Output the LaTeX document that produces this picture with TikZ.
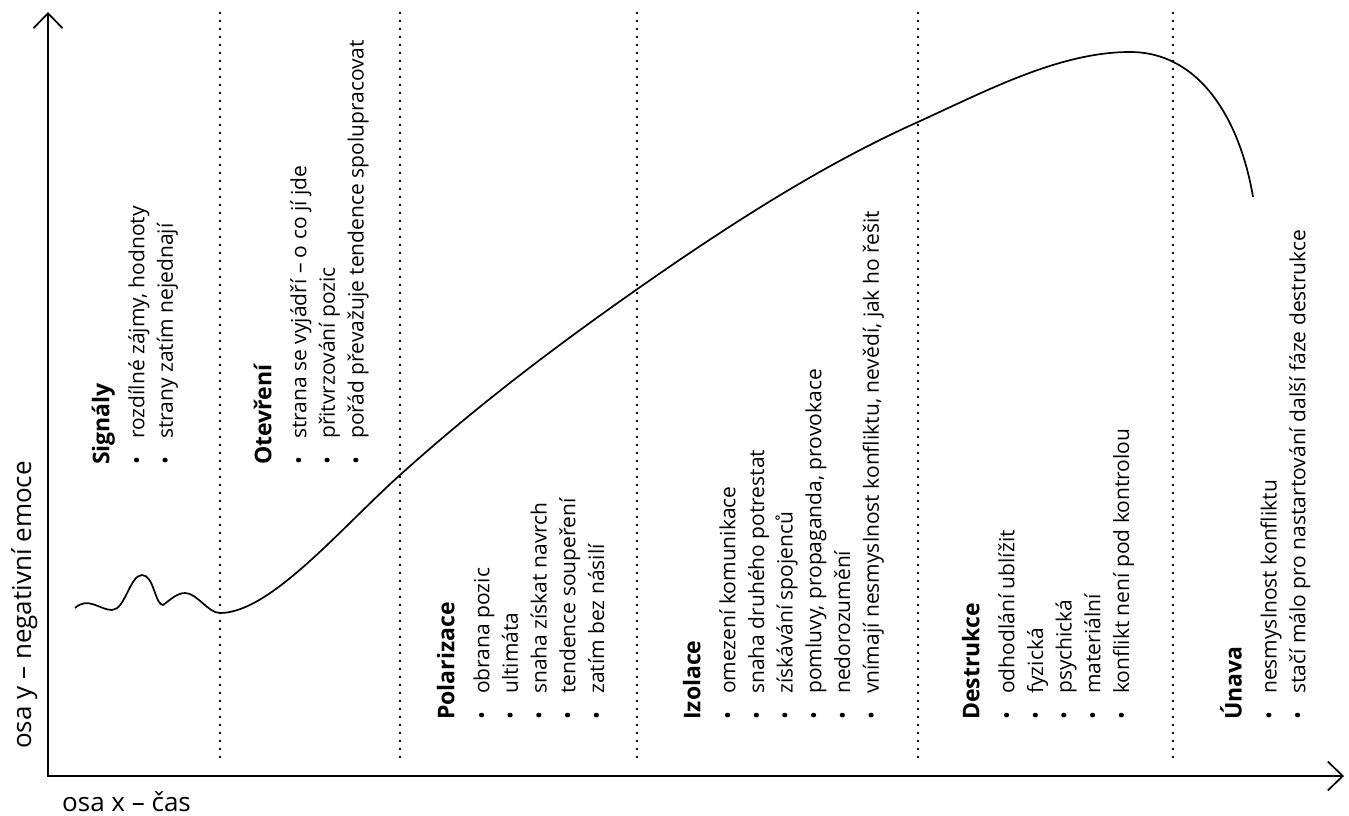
\documentclass[tikz,border=0pt]{standalone}
\usepackage{fontspec}
\setmainfont{Open Sans}
\usetikzlibrary{arrows.meta}

\tikzset{
  phase/.style={rotate=90, anchor=north west, inner sep=0pt, align=left,
    font=\fontsize{21}{28.7}\selectfont},
  axislabel/.style={inner sep=0pt, font=\fontsize{26}{30}\selectfont},
  divider/.style={line width=2.8pt, line cap=round, dash pattern=on 0pt off 8pt},
}
\newcommand{\itm}[1]{\makebox[26pt][l]{\textbullet}#1}
\newcommand{\phasetitle}[1]{\strut{\fontsize{23}{28.7}\selectfont\bfseries #1}}

\begin{document}
\begin{tikzpicture}[x=1pt,y=-1pt,>={Straight Barb[length=15pt,width=29pt]}]
        \useasboundingbox (0,0) rectangle (1349,816);

        % axes
        \coordinate (origin) at (48,776);
        \coordinate (ytip) at (48,12);
        \coordinate (xtip) at (1344,776);
        \draw[line width=1.7pt,<->] (ytip) -- (origin) -- (xtip);
        \node[axislabel,rotate=90,anchor=base west] (ylabel) at (31,749) {osa y – negativní emoce};
        \node[axislabel,anchor=base west] (xlabel) at (62,811) {osa x – čas};

        % phase borders
        \foreach \x in {220,400,637,918,1173}
            \draw[divider] (\x,13) -- (\x,758);

        % course of the conflict
        \draw[line width=1.7pt] (75,608) .. controls (88,596) and (100,610) .. (112,610)
            .. controls (125,610) and (130,575) .. (142,575)
            .. controls (154,575) and (155,605) .. (163,605)
            .. controls (170,600) and (177,593) .. (185,593)
            .. controls (197,593) and (208,613) .. (220,613)
            .. controls (270,613) and (340,529) .. (400,475)
            .. controls (470,412) and (546,353) .. (636,290)
            .. controls (730,224) and (824,164) .. (918,122)
            .. controls (988,90) and (1060,52) .. (1130,52)
            .. controls (1200,52) and (1240,120) .. (1253,197);

        \node[phase] (signaly) at (89,465) {\phasetitle{Signály}\\[6.3pt]
            \itm{rozdílné zájmy, hodnoty}\\
            \itm{strany zatím nejednají}};
        \node[phase] (otevreni) at (251,465) {\phasetitle{Otevření}\\[6.3pt]
            \itm{strana se vyjádří – o co jí jde}\\
            \itm{přitvrzování pozic}\\
            \itm{pořád převažuje tendence spolupracovat}};
        \node[phase] (polarizace) at (434,720) {\phasetitle{Polarizace}\\[6.3pt]
            \itm{obrana pozic}\\
            \itm{ultimáta}\\
            \itm{snaha získat navrch}\\
            \itm{tendence soupeření}\\
            \itm{zatím bez násilí}};
        \node[phase] (izolace) at (680,720) {\phasetitle{Izolace}\\[6.3pt]
            \itm{omezení komunikace}\\
            \itm{snaha druhého potrestat}\\
            \itm{získávání spojenců}\\
            \itm{pomluvy, propaganda, provokace}\\
            \itm{nedorozumění}\\
            \itm{vnímají nesmyslnost konfliktu, nevědí, jak ho řešit}};
        \node[phase] (destrukce) at (959,720) {\phasetitle{Destrukce}\\[6.3pt]
            \itm{odhodlání ublížit}\\
            \itm{fyzická}\\
            \itm{psychická}\\
            \itm{materiální}\\
            \itm{konflikt není pod kontrolou}};
        \node[phase] (unava) at (1220,720) {\phasetitle{Únava}\\[6.3pt]
            \itm{nesmyslnost konfliktu}\\
            \itm{stačí málo pro nastartování další fáze destrukce}};
\end{tikzpicture}
\end{document}
